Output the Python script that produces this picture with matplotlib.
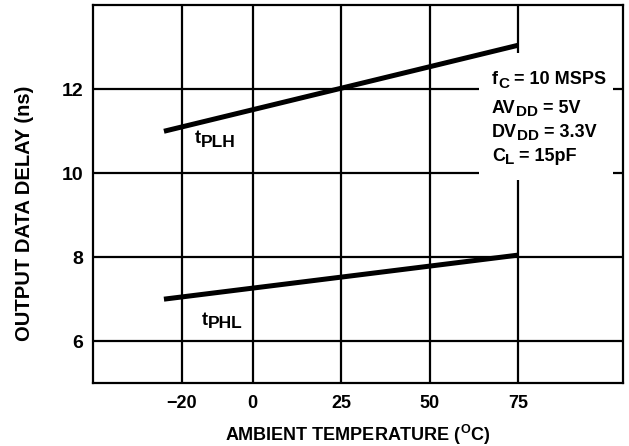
import matplotlib
matplotlib.use("Agg")
import matplotlib.pyplot as plt
from matplotlib.patches import Rectangle

# Задержка выходных данных от температуры
temp = [-25, 75]
t_plh = [11.0, 13.05]
t_phl = [7.0, 8.05]

xticks = [-20, 0, 25, 50, 75]
yticks = [6, 8, 10, 12]

# строки условий: (текст, индекс?)
cond_lines = [
    [("f", False), ("C", True), (" = 10 MSPS", False)],
    [("AV", False), ("DD", True), (" = 5V", False)],
    [("DV", False), ("DD", True), (" = 3.3V", False)],
    [("C", False), ("L", True), (" = 15pF", False)],
]
cond_y = [12.12, 11.445, 10.86, 10.30]

plt.rcParams['font.family'] = ['Liberation Sans', 'DejaVu Sans']
plt.rcParams['font.weight'] = 'bold'
plt.rcParams['mathtext.fontset'] = 'custom'
plt.rcParams['mathtext.rm'] = 'Liberation Sans:bold'
plt.rcParams['mathtext.bf'] = 'Liberation Sans:bold'
plt.rcParams['mathtext.it'] = 'Liberation Sans:bold'

fig = plt.figure(figsize=(6.29, 4.46), dpi=100)
ax = fig.add_axes([0.148, 0.141, 0.842, 0.847])


def sub_label(x, y, pieces, size, subsize, drop):
    # текст с нижними индексами, кусками подряд
    first = ax.text(x, y, pieces[0][0], fontsize=size, fontweight='bold',
                    va='baseline', ha='left', zorder=6)
    prev = first
    for s, sub in pieces[1:]:
        prev = ax.annotate(s, xy=(1, y), xycoords=(prev, 'data'),
                           xytext=(0, -drop if sub else 0), textcoords='offset points',
                           fontsize=subsize if sub else size, fontweight='bold',
                           va='baseline', ha='left', zorder=6)


ax.plot(temp, t_plh, "k-", lw=3.6, solid_capstyle='butt', zorder=4)
ax.plot(temp, t_phl, "k-", lw=3.6, solid_capstyle='butt', zorder=4)

ax.set_xlim(-45, 104.5)
ax.set_ylim(5, 14)
ax.set_xticks(xticks)
ax.set_yticks(yticks)
ax.tick_params(length=0)
ax.tick_params(axis='x', pad=8.5, labelsize=13)
ax.tick_params(axis='y', pad=7, labelsize=14)
for lab in ax.get_xticklabels() + ax.get_yticklabels():
    lab.set_fontweight('bold')
ax.grid(True, color='k', lw=1.6)
for s in ax.spines.values():
    s.set_linewidth(1.6)

ax.set_xlabel(r"AMBIENT TEMPERATURE ($\mathrm{^{O}}$C)", fontsize=13, fontweight='bold')
ax.xaxis.set_label_coords(0.5, -0.1527)
ax.xaxis.label.set_va('baseline')
ax.set_ylabel("OUTPUT DATA DELAY (ns)", fontsize=14.5, fontweight='bold')
ax.yaxis.set_label_coords(-0.130, 0.45)
ax.yaxis.label.set_va('center')

# белая подложка под условиями
ax.add_patch(Rectangle((64.0, 9.83), 37.8, 3.04, fc='white', ec='none', zorder=3))
for pieces, yy in zip(cond_lines, cond_y):
    sub_label(67.6, yy, pieces, 13, 11, 2.4)

sub_label(-16.3, 10.72, [("t", False), ("PLH", True)], 13, 12.5, 2.6)
sub_label(-14.4, 6.39, [("t", False), ("PHL", True)], 13, 12.5, 2.6)

plt.savefig("out.png", dpi=100)
